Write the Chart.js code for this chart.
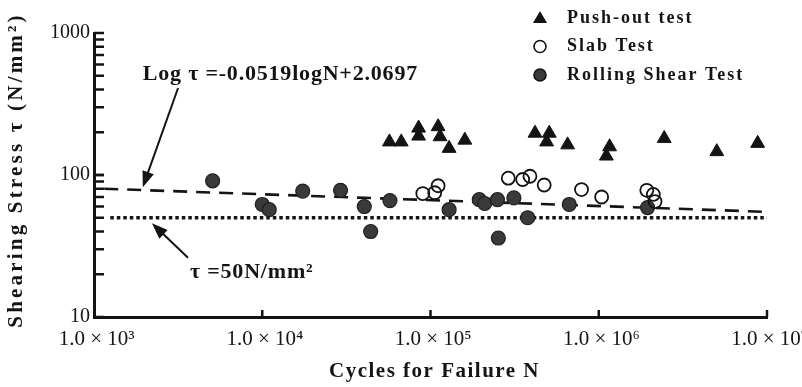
<!DOCTYPE html>
<html>
<head>
<meta charset="utf-8">
<script src="https://cdn.jsdelivr.net/npm/chart.js@4.4.1/dist/chart.umd.min.js"></script>
<style>
  html, body { margin: 0; padding: 0; background: #fff; }
  #wrap { width: 802px; height: 387px; }
</style>
</head>
<body>
<div id="wrap"><canvas id="c" width="802" height="387"></canvas></div>
<script>
// values
var pushN   = [5.7e4, 6.7e4, 8.5e4, 8.5e4, 1.11e5, 1.14e5, 1.29e5, 1.6e5, 4.18e5, 5.08e5, 4.9e5, 6.53e5, 1.16e6, 1.11e6, 2.45e6, 5.03e6, 8.8e6];
var pushTau = [171, 171, 214, 188, 219, 186, 154, 176, 197, 197, 171, 163, 158, 136, 181, 146, 167];

var slabN   = [9.0e4, 1.11e5, 1.06e5, 2.9e5, 3.53e5, 3.9e5, 4.74e5, 7.9e5, 1.04e6, 1.93e6, 2.11e6, 2.16e6];
var slabTau = [74, 84, 75, 95, 93, 98, 85, 79, 70, 78, 73, 65];

var rollN   = [5.07e3, 1.0e4, 1.1e4, 1.74e4, 2.92e4, 4.04e4, 4.41e4, 5.74e4, 1.29e5, 1.95e5, 2.1e5, 2.5e5, 3.13e5, 2.53e5, 3.78e5, 6.68e5, 1.95e6];
var rollTau = [91, 62, 57, 77, 78, 60, 40, 66, 57, 67, 63, 67, 69, 36, 50, 62, 59];

// fitted line  Log t = -0.0519 logN + 2.0697 and the 50 N/mm2 level, as drawn
var fitN   = [1.15e3, 1.0e7];
var fitTau = [80, 55];
var limN   = [1.25e3, 1.0e7];
var limTau = [50, 50];

var xTicks = [1e3, 1e4, 1e5, 1e6, 1e7];
var xTickLabels = [' 1.0 × 10³', ' 1.0 × 10⁴', ' 1.0 × 10⁵', ' 1.0 × 10⁶', ' 1.0 × 10⁷'];
var yTicks = [10, 100, 1000];
var yTickLabels = ['10', '100', '1000'];
var seriesNames = ['Push-out test', 'Slab Test', 'Rolling Shear Test'];

var SERIF = "'Liberation Serif', 'Times New Roman', serif";
var INK = '#141414';

function pts(xs, ys) {
    var out = [];
    for (var i = 0; i < xs.length; i++) out.push({ x: xs[i], y: ys[i] });
    return out;
}

// inward ticks, annotations, legend and axis titles
var extras = {
    id: 'extras',
    afterDatasetsDraw: function (chart) {
        var ctx = chart.ctx, xs = chart.scales.x, ys = chart.scales.y;
        var a = chart.chartArea;
        ctx.save();
        ctx.strokeStyle = INK;
        ctx.lineWidth = 2.5;
        // y ticks, major + minor, pointing into the plot
        for (var d = 10; d < 1000; d *= 10) {
            for (var m = 1; m <= 10; m++) {
                var py = ys.getPixelForValue(d * m);
                ctx.beginPath();
                ctx.moveTo(a.left, py);
                ctx.lineTo(a.left + 10, py);
                ctx.stroke();
            }
        }
        // x major ticks
        for (var i = 1; i < xTicks.length; i++) {
            var px = xs.getPixelForValue(xTicks[i]);
            ctx.beginPath();
            ctx.moveTo(px, a.bottom);
            ctx.lineTo(px, a.bottom - 7);
            ctx.stroke();
        }

        // annotations
        function arrow(x1, y1, x2, y2) {
            var p1x = xs.getPixelForValue(x1), p1y = ys.getPixelForValue(y1);
            var p2x = xs.getPixelForValue(x2), p2y = ys.getPixelForValue(y2);
            var ang = Math.atan2(p2y - p1y, p2x - p1x);
            ctx.lineWidth = 2;
            ctx.beginPath();
            ctx.moveTo(p1x, p1y);
            ctx.lineTo(p2x - 8 * Math.cos(ang), p2y - 8 * Math.sin(ang));
            ctx.stroke();
            ctx.beginPath();
            ctx.moveTo(p2x, p2y);
            ctx.lineTo(p2x - 16 * Math.cos(ang) + 6 * Math.sin(ang), p2y - 16 * Math.sin(ang) - 6 * Math.cos(ang));
            ctx.lineTo(p2x - 16 * Math.cos(ang) - 6 * Math.sin(ang), p2y - 16 * Math.sin(ang) + 6 * Math.cos(ang));
            ctx.closePath();
            ctx.fill();
        }
        ctx.fillStyle = INK;
        arrow(3.16e3, 410, 1.95e3, 82);
        arrow(3.62e3, 26.1, 2.21e3, 45.7);

        ctx.font = 'bold 22px ' + SERIF;
        ctx.letterSpacing = '0.8px';
        ctx.textBaseline = 'middle';
        ctx.textAlign = 'left';
        ctx.fillText('Log τ =-0.0519logN+2.0697', xs.getPixelForValue(1.95e3), ys.getPixelForValue(515));
        ctx.fillText('τ =50N/mm²', xs.getPixelForValue(3.72e3), ys.getPixelForValue(20.7));

        // legend
        var ds = chart.data.datasets;
        ctx.font = 'bold 18px ' + SERIF;
        ctx.letterSpacing = '2px';
        for (var k = 0; k < 3; k++) {
            var ly = 18 + k * 28.5, lx = 540;
            ctx.fillStyle = INK;
            ctx.strokeStyle = INK;
            ctx.lineWidth = 1.6;
            if (ds[k].pointStyle === 'triangle') {
                ctx.beginPath();
                ctx.moveTo(lx, ly - 7);
                ctx.lineTo(lx + 7, ly + 5);
                ctx.lineTo(lx - 7, ly + 5);
                ctx.closePath();
                ctx.fill();
            } else {
                ctx.beginPath();
                ctx.arc(lx, ly, 6, 0, Math.PI * 2);
                if (ds[k].backgroundColor !== 'transparent') { ctx.fillStyle = ds[k].backgroundColor; ctx.fill(); }
                ctx.stroke();
            }
            ctx.fillStyle = INK;
            ctx.fillText(ds[k].label, 567, ly);
        }

        // axis titles
        ctx.letterSpacing = '1.5px';
        ctx.font = 'bold 21px ' + SERIF;
        ctx.textAlign = 'center';
        ctx.fillText('Cycles for Failure N', (a.left + a.right) / 2 + 4, 372);
        ctx.save();
        ctx.translate(17, 170);
        ctx.rotate(-Math.PI / 2);
        ctx.letterSpacing = '3.2px';
        ctx.fillText('Shearing Stress τ (N/mm²)', 0, 0);
        ctx.restore();
        ctx.restore();
    }
};

new Chart(document.getElementById('c'), {
    type: 'scatter',
    data: {
        datasets: [{
            label: seriesNames[0],
            data: pts(pushN, pushTau),
            pointStyle: 'triangle',
            pointRadius: 8,
            backgroundColor: INK,
            borderColor: INK,
            borderWidth: 1
        }, {
            label: seriesNames[1],
            data: pts(slabN, slabTau),
            pointStyle: 'circle',
            pointRadius: 6.5,
            backgroundColor: 'transparent',
            borderColor: INK,
            borderWidth: 1.8
        }, {
            label: seriesNames[2],
            data: pts(rollN, rollTau),
            pointStyle: 'circle',
            pointRadius: 7,
            backgroundColor: '#3a3a3a',
            borderColor: '#202020',
            borderWidth: 1.2
        }, {
            type: 'line',
            label: 'fit',
            data: pts(fitN, fitTau),
            borderColor: INK,
            borderWidth: 2.6,
            borderDash: [14, 9],
            pointRadius: 0,
            fill: false
        }, {
            type: 'line',
            label: 'limit',
            data: pts(limN, limTau),
            borderColor: INK,
            borderWidth: 3.5,
            borderDash: [3.5, 3],
            pointRadius: 0,
            fill: false
        }]
    },
    options: {
        responsive: false,
        animation: false,
        events: [],
        layout: { padding: { left: 0, top: 33, right: 35, bottom: 0 } },
        plugins: {
            legend: { display: false },
            tooltip: { enabled: false }
        },
        scales: {
            x: {
                type: 'logarithmic',
                min: 1e3,
                max: 1e7,
                grid: { display: false, drawTicks: false },
                border: { display: true, color: INK, width: 3 },
                afterBuildTicks: function (s) { s.ticks = xTicks.map(function (v) { return { value: v }; }); },
                afterFit: function (s) { s.height = 70; s.paddingLeft = 0; s.paddingRight = 0; },
                ticks: {
                    autoSkip: false,
                    maxRotation: 0,
                    padding: 10,
                    color: INK,
                    font: { family: SERIF, size: 21 },
                    callback: function (v) { return xTickLabels[xTicks.indexOf(v)]; }
                }
            },
            y: {
                type: 'logarithmic',
                min: 10,
                max: 1000,
                grid: { display: false, drawTicks: false },
                border: { display: true, color: INK, width: 3 },
                afterBuildTicks: function (s) { s.ticks = yTicks.map(function (v) { return { value: v }; }); },
                afterFit: function (s) { s.width = 94; s.paddingTop = 0; s.paddingBottom = 0; },
                ticks: {
                    autoSkip: false,
                    padding: 4,
                    color: INK,
                    font: { family: SERIF, size: 20 },
                    callback: function (v) { return yTickLabels[yTicks.indexOf(v)]; }
                }
            }
        }
    },
    plugins: [extras]
});
</script>
</body>
</html>
